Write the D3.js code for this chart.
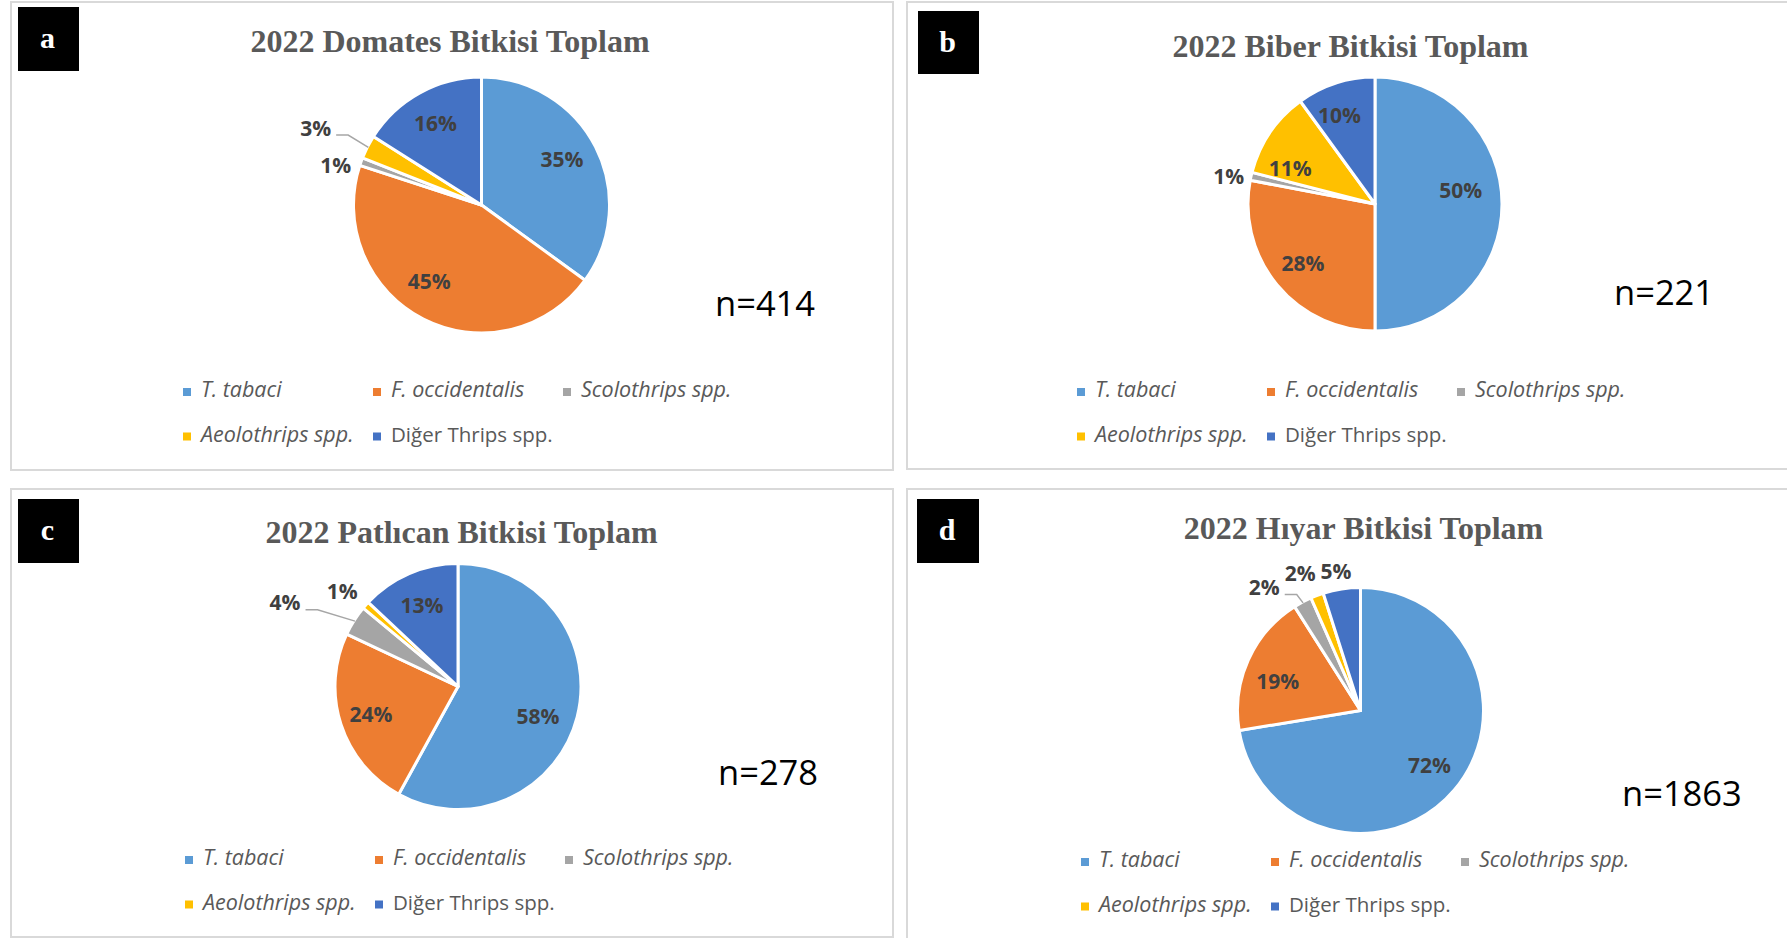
<!DOCTYPE html>
<html><head><meta charset="utf-8">
<script src="https://cdn.jsdelivr.net/npm/d3@7"></script>
<style>body{margin:0;background:#fff} svg{display:block}</style>
</head><body>
<svg id="chart" width="1787" height="938"></svg>
<script>
// ---------- data ----------
const categories = ["T. tabaci", "F. occidentalis", "Scolothrips spp.", "Aeolothrips spp.", "Diğer Thrips spp."];
const italicCategories = [true, true, true, true, false];
const colors = ["#5B9BD5", "#ED7D31", "#A5A5A5", "#FFC000", "#4472C4"];
const panelLetters = ["a", "b", "c", "d"];
const titles = ["2022 Domates Bitkisi Toplam", "2022 Biber Bitkisi Toplam", "2022 Patlıcan Bitkisi Toplam", "2022 Hıyar Bitkisi Toplam"];
const sampleSizes = [414, 221, 278, 1863];
const domatesValues = [35, 45, 1, 3, 16];
const biberValues = [50, 28, 1, 11, 10];
const patlicanValues = [58, 24, 4, 1, 13];
const hiyarValues = [72.4, 18.6, 2.4, 1.7, 4.9];
const seriesValues = [domatesValues, biberValues, patlicanValues, hiyarValues];

// ---------- layout (positions / sizes only) ----------
const layout = [
  {frame:[11,2,882,468], box:[18,7,61,64], title:[450,52], pie:[481.5,205,127], n:[715,316], legend:[183,397],
   labels:[[.73,-2.7],[.73,7.4],[1.19,-4.6],[1.44,-2.1,1],[.74,-0.5]]},
  {frame:[907,2,900,467], box:[918,11,61,63], title:[1350.5,57], pie:[1375,204,126], n:[1614,305], legend:[1077,397],
   labels:[[.69,-9.2],[.74,0.3],[1.18,-2.1],[.73,-11.5],[.76,-3.8]]},
  {frame:[11,489,882,448], box:[18,499,61,64], title:[461.5,543], pie:[458,686.5,122], n:[718,785], legend:[185,865],
   labels:[[.70,6.2],[.75,-0.1],[1.575,-6.6,1],[1.23,-1.9],[.73,-0.4]]},
  {frame:[907,489,900,460], box:[917,499,62,64], title:[1363.5,538.5], pie:[1360.5,710.5,122], n:[1622,806], legend:[1081,867],
   labels:[[.72,-2],[.72,-4.5],[1.28,-10,1],[1.23,-3],[1.16,-1.2]]}
];
const legendColStep = 190, legendRowStep = 44.5;

const svg = d3.select("#chart");
const color = d3.scaleOrdinal().domain(categories).range(colors);
const pie = d3.pie().sort(null).value(d => d.value);
const rad = Math.PI / 180;

seriesValues.forEach((vals, p) => {
  const L = layout[p];
  const g = svg.append("g");
  const total = d3.sum(vals);
  const data = categories.map((c, i) => ({cat: c, value: vals[i], idx: i}));

  // frame
  g.append("rect").attr("x", L.frame[0]).attr("y", L.frame[1]).attr("width", L.frame[2]).attr("height", L.frame[3])
    .attr("fill", "#fff").attr("stroke", "#d9d9d9").attr("stroke-width", 2);

  // letter box
  g.append("rect").attr("x", L.box[0]).attr("y", L.box[1]).attr("width", L.box[2]).attr("height", L.box[3]).attr("fill", "#000");
  g.append("text").attr("x", L.box[0] + L.box[2] / 2 - 1).attr("y", L.box[1] + 41)
    .attr("text-anchor", "middle").attr("font-family", "'Liberation Serif', 'Times New Roman', serif")
    .attr("font-weight", "bold").attr("font-size", 30).attr("fill", "#fff").text(panelLetters[p]);

  // title
  g.append("text").attr("x", L.title[0]).attr("y", L.title[1]).attr("text-anchor", "middle")
    .attr("font-family", "'Liberation Serif', 'Times New Roman', serif").attr("font-weight", "bold")
    .attr("font-size", 32).attr("fill", "#595959").text(titles[p]);

  // pie
  const [cx, cy, R] = L.pie;
  const arc = d3.arc().innerRadius(0).outerRadius(R + 1);
  const arcs = pie(data);
  const pg = g.append("g").attr("transform", `translate(${cx},${cy})`);
  pg.selectAll("path").data(arcs).join("path")
    .attr("d", arc).attr("fill", d => color(d.data.cat))
    .attr("stroke", "#fff").attr("stroke-width", 3).attr("stroke-linejoin", "round");

  // labels
  arcs.forEach((a, i) => {
    const [rf, nudge, leader] = L.labels[i];
    const mid = (a.startAngle + a.endAngle) / 2;
    const ang = mid + nudge * rad;
    const lx = cx + rf * R * Math.sin(ang), ly = cy - rf * R * Math.cos(ang);
    const t = g.append("text").attr("x", lx).attr("y", ly).attr("dy", "0.36em")
      .attr("text-anchor", "middle").attr("font-family", "'Open Sans', sans-serif")
      .attr("font-weight", "bold").attr("font-size", 21).attr("fill", "#404040")
      .text(Math.round(a.data.value / total * 100) + "%");
    if (leader) {
      const bb = t.node().getBBox();
      const x0 = bb.x + bb.width + 5, y0 = ly + 7;
      const ex = cx + R * Math.sin(mid), ey = cy - R * Math.cos(mid);
      g.append("path").attr("d", d3.line()([[x0, y0], [x0 + 12, y0], [ex, ey]]))
        .attr("fill", "none").attr("stroke", "#a6a6a6").attr("stroke-width", 1.5);
    }
  });

  // n label
  g.append("text").attr("x", L.n[0]).attr("y", L.n[1]).attr("font-family", "'Open Sans', sans-serif")
    .attr("font-size", 34.5).attr("fill", "#000").text("n=" + sampleSizes[p]);

  // legend
  const lg = g.append("g");
  categories.forEach((c, i) => {
    const col = i < 3 ? i : i - 3, row = i < 3 ? 0 : 1;
    const x = L.legend[0] + col * legendColStep, y = L.legend[1] + row * legendRowStep;
    lg.append("rect").attr("x", x).attr("y", y - 9).attr("width", 8).attr("height", 8).attr("fill", color(c));
    lg.append("text").attr("x", x + 18).attr("y", y).attr("font-family", "'Open Sans', sans-serif")
      .attr("font-size", italicCategories[i] ? 21.5 : 20.5).attr("font-style", italicCategories[i] ? "italic" : "normal")
      .attr("fill", "#595959").text(c);
  });
});
</script>
</body></html>
